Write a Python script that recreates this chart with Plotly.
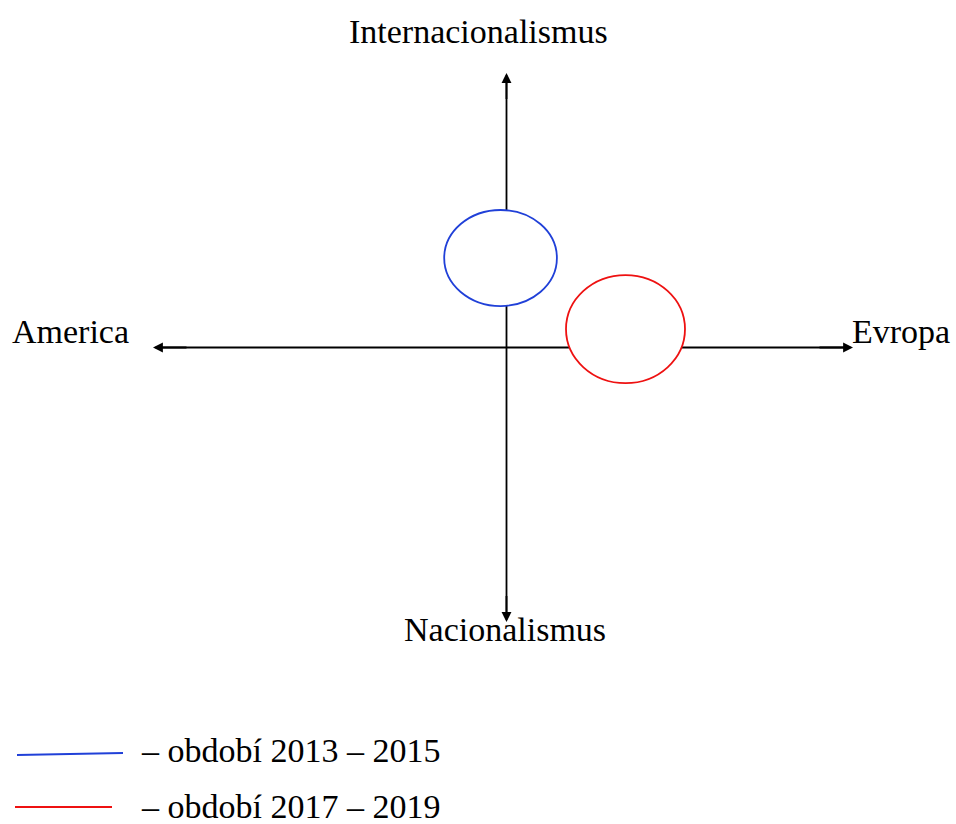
import plotly.graph_objects as go

W, H = 956, 824

# Conceptual axes
X_LEFT, X_RIGHT = -10.1, 9.9
Y_BOTTOM, Y_TOP = -10, 10
AXIS_LABELS = {"top": "Internacionalismus", "bottom": "Nacionalismus",
               "left": "America", "right": "Evropa"}

# Ellipses: periods, centers and radii in axis units
PERIODS = ["– období 2013 – 2015", "– období 2017 – 2019"]
CENTER_X = [-0.17, 3.4]
CENTER_Y = [3.26, 0.67]
RADIUS_X = [1.61, 1.70]
RADIUS_Y = [1.75, 1.97]
COLORS = ["#2040d8", "#ee1111"]

FONT = "Liberation Serif, Times New Roman, serif"


def px(x):
    return x / W


def py(y):
    return 1 - y / H


fig = go.Figure()
fig.add_trace(go.Scatter(x=[X_LEFT, X_RIGHT], y=[Y_BOTTOM, Y_TOP], mode="markers",
                         marker=dict(opacity=0), hoverinfo="skip", showlegend=False))

shapes = []
# axis lines (below)
shapes.append(dict(type="line", xref="x", yref="y", x0=X_LEFT + 0.1, x1=X_RIGHT - 0.1, y0=0, y1=0,
                   line=dict(color="black", width=1.8), layer="below"))
shapes.append(dict(type="line", xref="x", yref="y", x0=0, x1=0, y0=Y_BOTTOM + 0.1, y1=Y_TOP - 0.1,
                   line=dict(color="black", width=1.8), layer="below"))
# ellipses
for cx, cy, rx, ry, c in zip(CENTER_X, CENTER_Y, RADIUS_X, RADIUS_Y, COLORS):
    shapes.append(dict(type="circle", xref="x", yref="y", x0=cx - rx, x1=cx + rx, y0=cy - ry, y1=cy + ry,
                       line=dict(color=c, width=1.8), fillcolor="white", layer="above"))
# legend lines
legend_lines = [(17, 755, 123, 753), (15, 807, 112, 807)]
for (x0, y0, x1, y1), c in zip(legend_lines, COLORS):
    shapes.append(dict(type="line", xref="paper", yref="paper", x0=px(x0), x1=px(x1), y0=py(y0), y1=py(y1),
                       line=dict(color=c, width=2)))

annotations = []
# arrowheads
for (x, y, ax, ay) in [(X_RIGHT, 0, X_RIGHT - 1, 0), (X_LEFT, 0, X_LEFT + 1, 0),
                       (0, Y_TOP, 0, Y_TOP - 1), (0, Y_BOTTOM, 0, Y_BOTTOM + 1)]:
    annotations.append(dict(x=x, y=y, ax=ax, ay=ay, xref="x", yref="y", axref="x", ayref="y",
                            showarrow=True, arrowhead=2, arrowsize=1.1, arrowwidth=1.8,
                            arrowcolor="black", text=""))
# axis labels
lab_font = dict(family=FONT, size=34, color="black")
annotations.append(dict(x=px(478), y=py(31), xref="paper", yref="paper", text=AXIS_LABELS["top"],
                        showarrow=False, font=lab_font, xanchor="center", yanchor="middle"))
annotations.append(dict(x=px(505), y=py(629), xref="paper", yref="paper", text=AXIS_LABELS["bottom"],
                        showarrow=False, font=lab_font, xanchor="center", yanchor="middle"))
annotations.append(dict(x=px(70), y=py(331), xref="paper", yref="paper", text=AXIS_LABELS["left"],
                        showarrow=False, font=lab_font, xanchor="center", yanchor="middle"))
annotations.append(dict(x=px(901), y=py(331), xref="paper", yref="paper", text=AXIS_LABELS["right"],
                        showarrow=False, font=lab_font, xanchor="center", yanchor="middle"))
# legend texts
for label, ypix in zip(PERIODS, [750, 806]):
    annotations.append(dict(x=px(139), y=py(ypix), xref="paper", yref="paper", text=label,
                            showarrow=False, font=lab_font, xanchor="left", yanchor="middle"))

fig.update_layout(
    width=W, height=H, margin=dict(l=0, r=0, t=0, b=0),
    paper_bgcolor="white", plot_bgcolor="white",
    xaxis=dict(range=[X_LEFT, X_RIGHT], domain=[px(153), px(853)], visible=False, fixedrange=True),
    yaxis=dict(range=[Y_BOTTOM, Y_TOP], domain=[py(622), py(73)], visible=False, fixedrange=True),
    shapes=shapes, annotations=annotations, showlegend=False,
)

fig.write_html("out.html", config={"displayModeBar": False},
               post_script="document.body.style.margin='0';document.body.style.overflow='hidden';")
